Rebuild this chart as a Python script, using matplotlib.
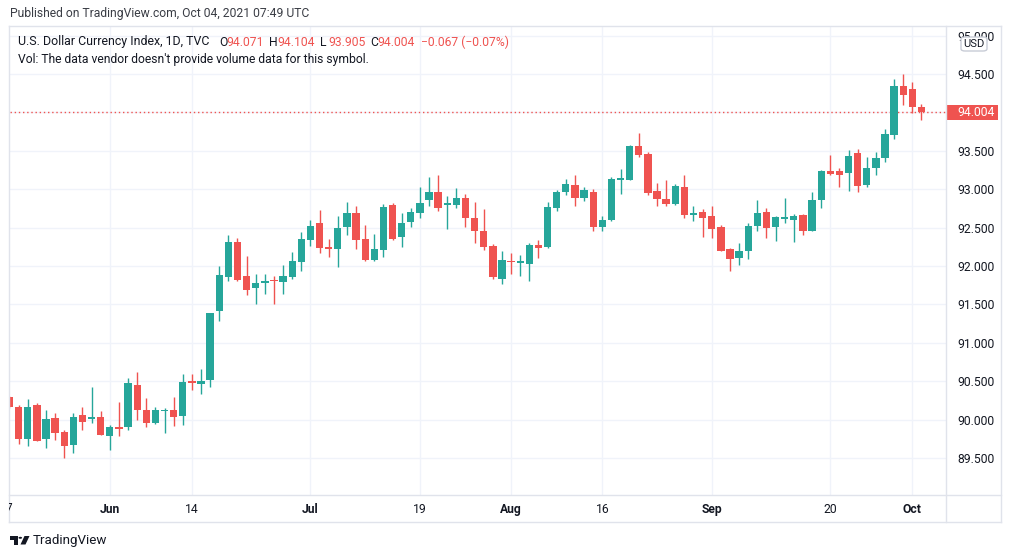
import matplotlib
matplotlib.use("Agg")
import matplotlib.pyplot as plt
import matplotlib.patches as mpatches
from matplotlib.lines import Line2D
from matplotlib.transforms import Bbox, TransformedBbox
import pandas as pd

# daily sessions shown, May 17 -> Oct 04 2021
dates = pd.bdate_range("2021-05-17", "2021-10-04")

opens = [90.29, 90.16, 89.75, 90.19, 89.75, 90.02, 89.84, 89.67, 90.06, 90.01,
         90.04, 89.79, 89.90, 89.91, 90.45, 90.12, 89.96, 90.11, 90.125, 90.05,
         90.50, 90.47, 90.52, 91.41, 91.86, 92.31, 91.87, 91.71, 91.78, 91.815,
         91.79, 91.86, 92.056, 92.34, 92.56, 92.245, 92.22, 92.51, 92.686, 92.35,
         92.08, 92.21, 92.80, 92.38, 92.57, 92.69, 92.86, 92.96, 92.79, 92.80,
         92.89, 92.62, 92.456, 92.26, 91.835, 92.07, 92.04, 92.02, 92.27, 92.25,
         92.755, 92.96, 93.055, 92.88, 92.97, 92.51, 92.60, 93.125, 93.125, 93.56,
         93.46, 92.977, 92.87, 92.81, 93.03, 92.67, 92.70, 92.65, 92.51, 92.22,
         92.10, 92.19, 92.525, 92.70, 92.51, 92.61, 92.60, 92.67, 92.45, 92.86,
         93.24, 93.24, 93.215, 93.47, 93.055, 93.27, 93.40, 93.71, 94.35, 94.30,
         94.071]
highs = [90.31, 90.19, 90.27, 90.21, 90.13, 90.09, 89.86, 90.09, 90.16, 90.42,
         90.11, 89.93, 90.23, 90.54, 90.62, 90.28, 90.16, 90.15, 90.30, 90.59,
         90.59, 90.66, 91.39, 92.00, 92.40, 92.36, 92.13, 91.90, 91.90, 91.87,
         92.01, 92.18, 92.44, 92.60, 92.73, 92.35, 92.655, 92.83, 92.78, 92.53,
         92.42, 92.81, 92.82, 92.69, 92.75, 93.025, 93.155, 93.18, 92.91, 93.01,
         92.94, 92.83, 92.74, 92.29, 92.195, 92.165, 92.14, 92.30, 92.34, 92.83,
         92.99, 93.13, 93.185, 93.025, 93.00, 92.65, 93.16, 93.26, 93.575, 93.73,
         93.49, 93.08, 93.12, 93.07, 93.18, 92.78, 92.74, 92.78, 92.53, 92.24,
         92.295, 92.56, 92.86, 92.76, 92.65, 92.89, 92.68, 92.68, 92.96, 93.25,
         93.445, 93.27, 93.51, 93.52, 93.415, 93.48, 93.79, 94.43, 94.50, 94.39,
         94.104]
lows = [90.15, 89.68, 89.66, 89.72, 89.63, 89.74, 89.50, 89.56, 89.87, 89.96,
        89.80, 89.60, 89.79, 89.87, 90.00, 89.90, 89.94, 89.82, 89.92, 89.93,
        90.39, 90.33, 90.42, 91.29, 91.80, 91.80, 91.62, 91.50, 91.64, 91.51,
        91.64, 91.83, 91.94, 92.26, 92.17, 92.12, 91.99, 92.41, 92.22, 92.07,
        92.07, 92.12, 92.34, 92.25, 92.51, 92.62, 92.785, 92.71, 92.48, 92.76,
        92.51, 92.30, 92.21, 91.83, 91.77, 91.90, 91.87, 91.80, 92.10, 92.24,
        92.71, 92.93, 92.785, 92.84, 92.46, 92.46, 92.59, 92.94, 93.125, 93.42,
        92.93, 92.785, 92.785, 92.80, 92.62, 92.58, 92.38, 92.36, 92.20, 91.93,
        92.01, 92.09, 92.46, 92.37, 92.32, 92.56, 92.31, 92.41, 92.45, 92.75,
        93.18, 93.03, 92.98, 92.97, 93.03, 93.19, 93.35, 93.66, 94.10, 93.99,
        93.905]
closes = [90.16, 89.75, 90.16, 89.725, 90.01, 89.82, 89.65, 90.03, 89.97, 90.04,
          89.80, 89.90, 89.88, 90.48, 90.12, 89.95, 90.12, 90.12, 90.04, 90.49,
          90.48, 90.50, 91.39, 91.88, 92.31, 91.82, 91.69, 91.78, 91.805, 91.80,
          91.87, 92.065, 92.35, 92.52, 92.23, 92.225, 92.50, 92.69, 92.34, 92.08,
          92.22, 92.77, 92.35, 92.56, 92.70, 92.82, 92.96, 92.76, 92.82, 92.89,
          92.62, 92.46, 92.25, 91.86, 92.08, 92.055, 92.06, 92.27, 92.24, 92.77,
          92.97, 93.07, 92.88, 92.99, 92.51, 92.60, 93.13, 93.14, 93.567, 93.45,
          92.955, 92.87, 92.81, 93.04, 92.67, 92.69, 92.62, 92.48, 92.20, 92.09,
          92.195, 92.52, 92.69, 92.50, 92.64, 92.64, 92.65, 92.46, 92.86, 93.24,
          93.20, 93.19, 93.43, 93.04, 93.28, 93.40, 93.715, 94.35, 94.23, 94.071,
          94.004]

price_ticks = [89.5, 90.0, 90.5, 91.0, 91.5, 92.0, 92.5, 93.0, 93.5, 94.0, 94.5, 95.0]
tick_dates = ["2021-06-01", "2021-06-14", "2021-07-01", "2021-07-19", "2021-08-02",
              "2021-08-16", "2021-09-01", "2021-09-20", "2021-10-01"]
tick_labels = ["Jun", "14", "Jul", "19", "Aug", "16", "Sep", "20", "Oct"]

UP = "#26a69a"
DOWN = "#ef5350"
TXT = "#131722"
GRID = "#f0f3fa"
FRAME = "#e0e3eb"
FONT = "Roboto"

W, H = 1012, 558
fx = lambda px: px / W
fy = lambda py: 1 - py / H

plt.rcParams["font.family"] = [FONT, "DejaVu Sans"]

fig = plt.figure(figsize=(W / 100, H / 100), dpi=100)
fig.patch.set_facecolor("white")

# main pane, pixel box 10..946 x 26..495
ax = fig.add_axes([fx(10), fy(495), fx(946) - fx(10), fy(26) - fy(495)])
step = 9.12
x0 = 9.5
ax.set_xlim((10 - x0) / step, (946 - x0) / step)
ax.set_ylim(94.5 - (495 - 74) / 76.8, 94.5 + (74 - 26) / 76.8)

idx = list(range(len(dates)))
colors = [UP if c >= o else DOWN for o, c in zip(opens, closes)]
bottoms = [min(o, c) for o, c in zip(opens, closes)]
heights = [max(abs(c - o), 0.014) for o, c in zip(opens, closes)]

ax.vlines(idx, lows, highs, colors=colors, lw=1, zorder=2)
ax.bar(idx, heights, bottom=bottoms, width=0.8, color=colors, linewidth=0, zorder=3)

# last price line
ax.axhline(closes[-1], color=DOWN, lw=1, ls=(0, (1, 2)), zorder=1)

pos = {d: i for i, d in enumerate(dates)}
xt = [pos[pd.Timestamp(d)] for d in tick_dates]
ax.set_xticks(xt)
ax.set_xticklabels(tick_labels)
for lbl, t in zip(ax.get_xticklabels(), tick_labels):
    if not t.isdigit():
        lbl.set_fontweight("bold")
ax.set_yticks(price_ticks)
ax.set_yticklabels(["{:.3f}".format(p) for p in price_ticks])
ax.yaxis.tick_right()
ax.tick_params(axis="both", length=0, labelsize=8.7, colors=TXT)
ax.tick_params(axis="y", pad=8)
ax.tick_params(axis="x", pad=6)
ax.grid(True, color=GRID, lw=1, zorder=0)
ax.set_axisbelow(True)
for s in ax.spines.values():
    s.set_visible(False)

# first day label, cut by the pane edge
first = fig.text(fx(7), fy(509), "17", ha="center", va="center", fontsize=8.7, color=TXT)
first.set_clip_box(TransformedBbox(Bbox.from_extents(fx(8.5), 0, 1, 1), fig.transFigure))
first.set_clip_on(True)

# frame
for (xa, ya, xb, yb) in [(9, 26, 1001, 26), (9, 522, 1001, 522), (9, 26, 9, 522),
                         (1001, 26, 1001, 522), (9, 495, 1001, 495), (946, 26, 946, 522)]:
    fig.add_artist(Line2D([fx(xa), fx(xb)], [fy(ya), fy(yb)], color=FRAME, lw=1))

# USD badge
fig.add_artist(mpatches.FancyBboxPatch((fx(961), fy(51)), fx(26), 14 / H,
                                       boxstyle="round,pad=0,rounding_size=0.004",
                                       transform=fig.transFigure, facecolor="white",
                                       edgecolor="#c8ccd6", lw=1, zorder=5))
fig.text(fx(974), fy(44), "USD", ha="center", va="center", fontsize=8, color=TXT, zorder=6)

# last price badge
fig.add_artist(mpatches.Rectangle((fx(946), fy(120)), fx(52), 15 / H,
                                  transform=fig.transFigure, facecolor=DOWN, edgecolor="none"))
fig.text(fx(957), fy(112.5), "{:.3f}".format(closes[-1]), ha="left", va="center",
         fontsize=8.7, color="white")

# header and legend
fig.text(fx(10), fy(14), "Published on TradingView.com, Oct 04, 2021 07:49 UTC",
         ha="left", va="center", fontsize=8.7, color="#3a3d45")
fig.text(fx(18), fy(42), "U.S. Dollar Currency Index, 1D, TVC", ha="left", va="center",
         fontsize=8.9, color=TXT)
chg = closes[-1] - closes[-2]
ohlc = [("O", 219, opens[-1]), ("H", 269.5, highs[-1]), ("L", 320.5, lows[-1]), ("C", 370, closes[-1])]
for letter, px, val in ohlc:
    fig.text(fx(px), fy(42), letter, ha="left", va="center", fontsize=8.7, color=TXT)
    fig.text(fx(px + 7.5), fy(42), "{:.3f}".format(val), ha="left", va="center",
             fontsize=8.7, color=DOWN)
fig.text(fx(421), fy(42), "\u2212{:.3f} (\u2212{:.2f}%)".format(abs(chg), abs(chg) / closes[-2] * 100),
         ha="left", va="center", fontsize=8.7, color=DOWN)
fig.text(fx(18), fy(59.5), "Vol: The data vendor doesn't provide volume data for this symbol.",
         ha="left", va="center", fontsize=8.7, color=TXT)

# footer logo
fig.add_artist(mpatches.Polygon([(fx(10), fy(536)), (fx(17.5), fy(536)), (fx(17.5), fy(544.5)),
                                 (fx(14), fy(544.5)), (fx(14), fy(539.5)), (fx(10), fy(539.5))],
                                closed=True, transform=fig.transFigure, facecolor=TXT, edgecolor="none"))
fig.add_artist(mpatches.Circle((fx(20.3), fy(537.8)), 1.8 / W, transform=fig.transFigure,
                               facecolor=TXT, edgecolor="none"))
fig.add_artist(mpatches.Polygon([(fx(24.5), fy(536)), (fx(29.5), fy(536)), (fx(25.5), fy(544.5)),
                                 (fx(20.5), fy(544.5))],
                                closed=True, transform=fig.transFigure, facecolor=TXT, edgecolor="none"))
fig.text(fx(33), fy(540.5), "TradingView", ha="left", va="center", fontsize=9.6, color=TXT)

fig.savefig("out.png", dpi=100, facecolor="white")
